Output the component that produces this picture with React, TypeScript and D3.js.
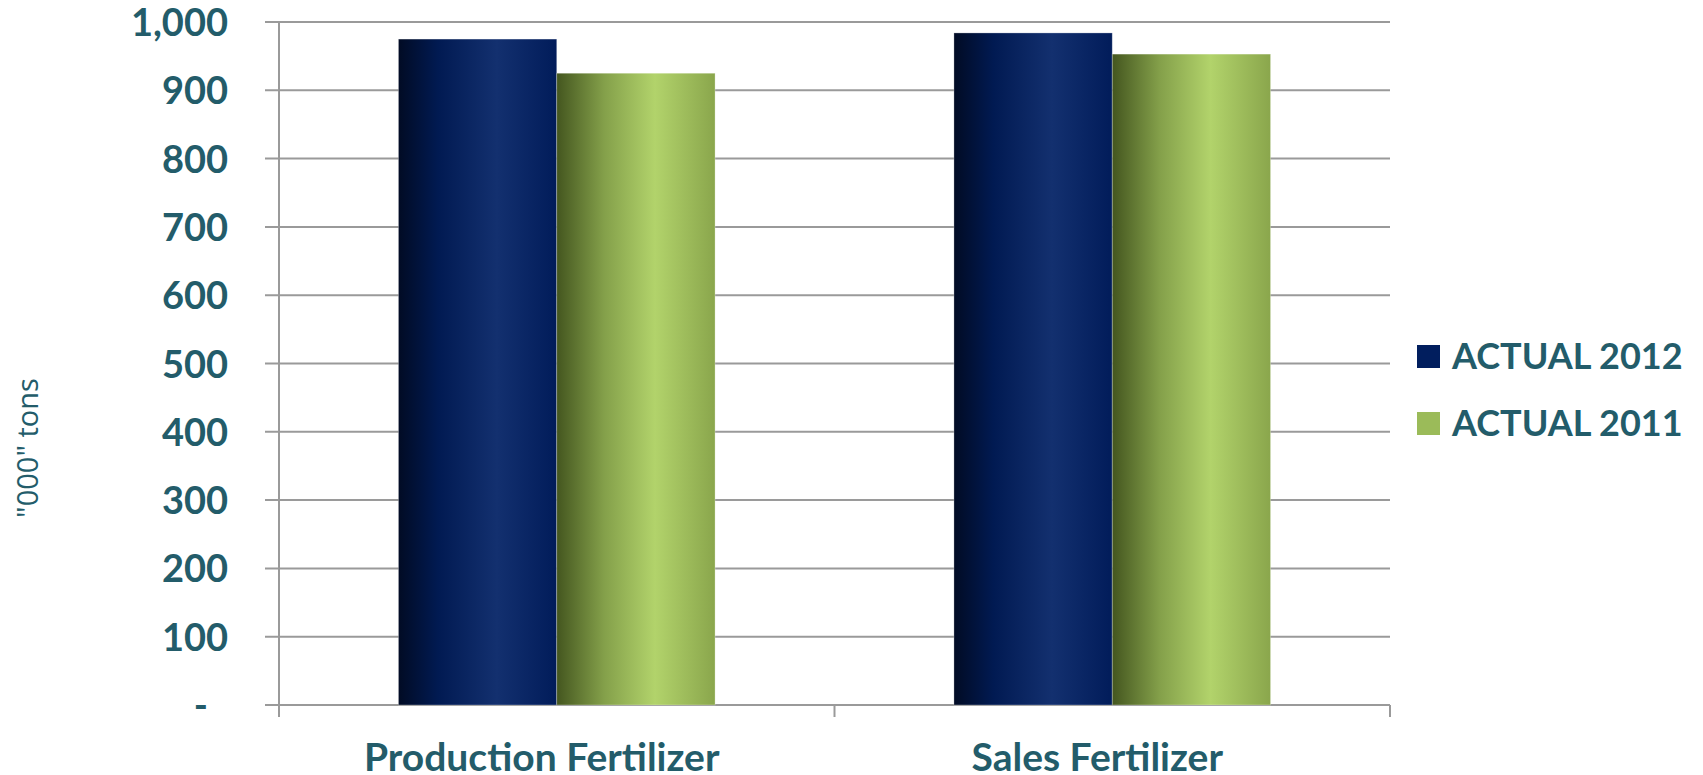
import React, { useEffect, useRef } from "react";
import * as d3 from "d3";

const categories = ["Production Fertilizer", "Sales Fertilizer"];
const seriesNames = ["ACTUAL 2012", "ACTUAL 2011"];
const actual2012 = [975, 984];
const actual2011 = [925, 953];
const yTicks = [0, 100, 200, 300, 400, 500, 600, 700, 800, 900, 1000];

const W = 1703;
const H = 775;
const TEAL = "#235c6a";
const GRID = "#9a9a9a";

export default function App() {
  const ref = useRef<SVGSVGElement>(null);

  useEffect(() => {
    const svg = d3.select(ref.current);
    svg.selectAll("*").remove();

    const margin = { top: 22, left: 279, right: 313, bottom: 70 };
    const width = W - margin.left - margin.right;
    const height = H - margin.top - margin.bottom;

    // gradients for the shiny bars
    const defs = svg.append("defs");
    const grads = [
      { id: "g2012", stops: [["0%", "#010b24"], ["25%", "#011a52"], ["62%", "#13306f"], ["100%", "#011c5a"]] },
      { id: "g2011", stops: [["0%", "#44561f"], ["30%", "#84a04a"], ["62%", "#b2d36b"], ["100%", "#8aa64c"]] }
    ];
    grads.forEach(gd => {
      const lg = defs.append("linearGradient").attr("id", gd.id).attr("x1", "0").attr("x2", "1").attr("y1", "0").attr("y2", "0");
      gd.stops.forEach(s => lg.append("stop").attr("offset", s[0]).attr("stop-color", s[1]));
    });

    const g = svg.append("g").attr("transform", `translate(${margin.left},${margin.top})`);

    const x0 = d3.scaleBand().domain(categories).range([0, width]).paddingInner(0.43).paddingOuter(0.215);
    const step = x0.step();
    const x1 = d3.scaleBand().domain(seriesNames).range([0, x0.bandwidth()]);
    const y = d3.scaleLinear().domain([0, 1000]).range([height, 0]);

    // gridlines
    g.append("g")
      .selectAll("line")
      .data(yTicks)
      .enter()
      .append("line")
      .attr("x1", -14)
      .attr("x2", width)
      .attr("y1", d => y(d))
      .attr("y2", d => y(d))
      .attr("stroke", GRID)
      .attr("stroke-width", 2);

    // y axis line
    g.append("line")
      .attr("x1", 0).attr("x2", 0)
      .attr("y1", 0).attr("y2", height + 12)
      .attr("stroke", GRID).attr("stroke-width", 2);

    // x ticks at band boundaries
    const bounds = [0, step, 2 * step];
    g.append("g")
      .selectAll("line")
      .data(bounds)
      .enter()
      .append("line")
      .attr("x1", d => d).attr("x2", d => d)
      .attr("y1", height).attr("y2", height + 12)
      .attr("stroke", GRID).attr("stroke-width", 2);

    // bars
    const data = categories.map((c, i) => ({ c, vals: [actual2012[i], actual2011[i]] }));
    const grp = g.selectAll(".grp")
      .data(data)
      .enter()
      .append("g")
      .attr("transform", d => `translate(${x0(d.c)},0)`);
    grp.selectAll("rect")
      .data(d => d.vals.map((v, j) => ({ v, s: seriesNames[j], j })))
      .enter()
      .append("rect")
      .attr("x", d => x1(d.s)!)
      .attr("y", d => y(d.v))
      .attr("width", x1.bandwidth())
      .attr("height", d => height - y(d.v))
      .attr("fill", d => (d.j === 0 ? "url(#g2012)" : "url(#g2011)"))
      .attr("stroke", "#ffffff")
      .attr("stroke-opacity", 0.35)
      .attr("stroke-width", 0.8);

    // y tick labels
    g.append("g")
      .selectAll("text")
      .data(yTicks)
      .enter()
      .append("text")
      .attr("x", d => (d === 0 ? -71 : -51))
      .attr("y", d => y(d))
      .attr("dy", "0.37em")
      .attr("text-anchor", "end")
      .attr("font-family", "Lato, sans-serif")
      .attr("font-weight", "bold")
      .attr("font-size", 38)
      .attr("fill", TEAL)
      .text(d => (d === 0 ? "-" : d3.format(",")(d)));

    // category labels
    g.append("g")
      .selectAll("text")
      .data(categories)
      .enter()
      .append("text")
      .attr("x", d => x0(d)! + x0.bandwidth() / 2 - 15)
      .attr("y", height + 52)
      .attr("dy", "0.36em")
      .attr("text-anchor", "middle")
      .attr("font-family", "Lato, sans-serif")
      .attr("font-weight", "bold")
      .attr("font-size", 39)
      .attr("fill", TEAL)
      .text(d => d);

    // y axis title
    svg.append("text")
      .attr("transform", `translate(28,${448}) rotate(-90)`)
      .attr("text-anchor", "middle")
      .attr("dy", "0.36em")
      .attr("font-family", "'Open Sans', sans-serif")
      .attr("font-size", 29)
      .attr("fill", TEAL)
      .text('"000" tons');

    // legend
    const legendColors = ["#011e5e", "#9bbb59"];
    const leg = svg.append("g").attr("transform", "translate(1417,356)");
    seriesNames.forEach((s, i) => {
      const row = leg.append("g").attr("transform", `translate(0,${i * 67})`);
      row.append("rect").attr("x", 0).attr("y", -11).attr("width", 23).attr("height", 23).attr("fill", legendColors[i]);
      row.append("text")
        .attr("x", 35)
        .attr("y", 0)
        .attr("dy", "0.36em")
        .attr("font-family", "Lato, sans-serif")
        .attr("font-weight", "bold")
        .attr("font-size", 36)
        .attr("fill", TEAL)
        .text(s);
    });
  }, []);

  return (
    <div>
      <svg ref={ref} width={W} height={H} style={{ position: "absolute", left: 0, top: 0, background: "#fff" }} />
    </div>
  );
}
